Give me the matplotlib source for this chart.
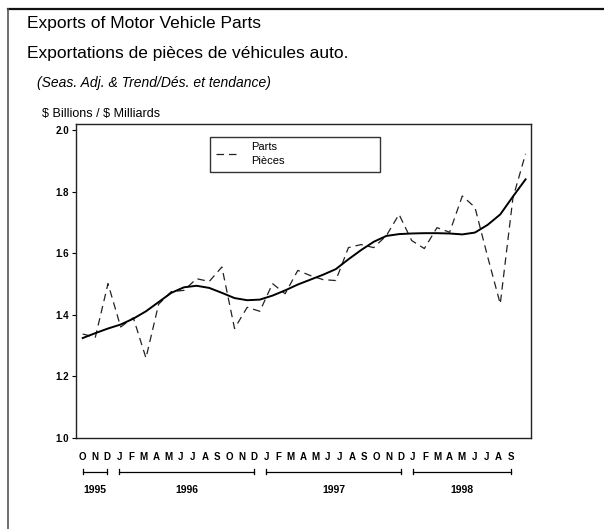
import matplotlib
matplotlib.use("Agg")
import matplotlib.pyplot as plt
import matplotlib.transforms as mtransforms
from matplotlib.lines import Line2D

plt.rcParams['font.family'] = ['Liberation Sans', 'DejaVu Sans']

# monthly values, Oct 1995 .. Sep 1998 ($ billions)
months = ['O', 'N', 'D',
          'J', 'F', 'M', 'A', 'M', 'J', 'J', 'A', 'S', 'O', 'N', 'D',
          'J', 'F', 'M', 'A', 'M', 'J', 'J', 'A', 'S', 'O', 'N', 'D',
          'J', 'F', 'M', 'A', 'M', 'J', 'J', 'A', 'S']
parts = [1.338, 1.328, 1.502, 1.361, 1.391, 1.260, 1.435, 1.476, 1.480, 1.518,
         1.509, 1.556, 1.356, 1.425, 1.412, 1.502, 1.469, 1.545, 1.528, 1.515,
         1.512, 1.619, 1.629, 1.619, 1.658, 1.727, 1.642, 1.616, 1.684, 1.669,
         1.787, 1.750, 1.590, 1.436, 1.780, 1.924]
trend = [1.325, 1.341, 1.356, 1.369, 1.388, 1.412, 1.442, 1.472, 1.490, 1.495,
         1.488, 1.472, 1.455, 1.448, 1.450, 1.463, 1.480, 1.499, 1.515, 1.531,
         1.549, 1.581, 1.611, 1.638, 1.657, 1.663, 1.665, 1.666, 1.666, 1.665,
         1.662, 1.668, 1.693, 1.727, 1.785, 1.841]
years = ['1995', '1996', '1997', '1998']
year_span = [(0, 2), (3, 14), (15, 26), (27, 35)]  # first/last month index
yticks = [1.0, 1.2, 1.4, 1.6, 1.8, 2.0]

x = list(range(len(parts)))

fig = plt.figure(figsize=(6.04, 5.29), dpi=100)
W, H = 604, 529

# outer frame (top and left only)
fig.add_artist(Line2D([8 / W, 1], [1 - 9 / H, 1 - 9 / H], transform=fig.transFigure,
                      color='#111111', lw=1.6))
fig.add_artist(Line2D([8 / W, 8 / W], [0, 1 - 9 / H], transform=fig.transFigure,
                      color='#555555', lw=1.2))

# titles
fig.text(27 / W, 1 - 28 / H, 'Exports of Motor Vehicle Parts', fontsize=12.5, va='baseline')
fig.text(27 / W, 1 - 58 / H, 'Exportations de pièces de véhicules auto.', fontsize=12.5,
         va='baseline')
fig.text(37 / W, 1 - 87 / H, '(Seas. Adj. & Trend/Dés. et tendance)', fontsize=10,
         style='italic', va='baseline')
fig.text(42 / W, 1 - 117 / H, r'\$ Billions / \$ Milliards', fontsize=9, va='baseline')

ax = fig.add_axes([76 / W, 1 - 438 / H, (531 - 76) / W, (438 - 124) / H])
ax.plot(x, parts, color='#222222', lw=0.9, ls=(0, (6, 4)), label='Parts\nPièces')
ax.plot(x, trend, color='black', lw=1.4)

ax.set_xlim(-0.53, 35.43)
ax.set_ylim(1.0, 2.021)
ax.set_yticks(yticks)
ax.set_yticklabels([f'{v:.1f}' for v in yticks], fontsize=7, fontweight='bold')
ax.tick_params(axis='y', length=3, width=0.8, pad=2)
ax.set_xticks([])
for s in ax.spines.values():
    s.set_linewidth(1.0)
    s.set_color('#222222')

leg = ax.legend(loc='upper left', bbox_to_anchor=(0.2945, 0.845, 0.374, 0.1145),
                mode='expand', fontsize=8, handlelength=2.2, frameon=True,
                fancybox=False, borderpad=0.5, handletextpad=1.0, borderaxespad=0)
leg.get_frame().set_edgecolor('black')
leg.get_frame().set_linewidth(1.0)
for t in leg.get_texts():
    t.set_linespacing(1.5)

# month letters and year brackets below axis
step = 12.23 / 12.65
trans = mtransforms.blended_transform_factory(ax.transData, ax.transAxes)
for i, m in enumerate(months):
    ax.text(i * step, -0.0605, m, transform=trans, ha='center', va='center',
            fontsize=7, fontweight='bold', clip_on=False)
for yr, (a, b) in zip(years, year_span):
    xa, xb = a * step, b * step
    ax.plot([xa, xb], [-0.108, -0.108], transform=trans, color='black', lw=0.9, clip_on=False)
    for xe in (xa, xb):
        ax.plot([xe, xe], [-0.100, -0.116], transform=trans, color='black', lw=0.9, clip_on=False)
    ax.text((xa + xb) / 2, -0.166, yr, transform=trans, ha='center', va='center',
            fontsize=7.5, fontweight='bold', clip_on=False)

fig.savefig('out.png', dpi=100)
